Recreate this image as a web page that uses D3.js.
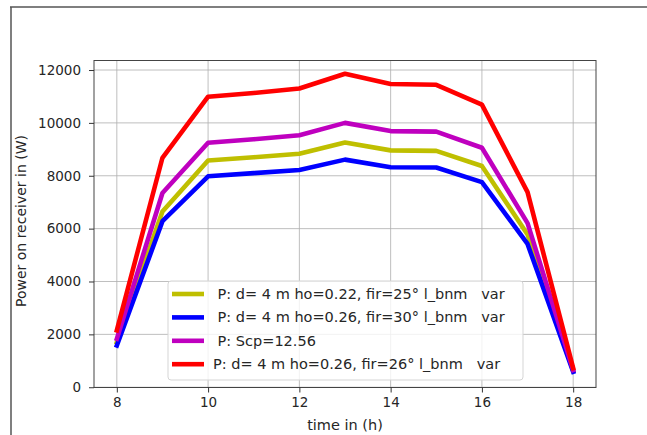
<!DOCTYPE html>
<html>
<head>
<meta charset="utf-8">
<script src="https://cdn.jsdelivr.net/npm/d3@7"></script>
<style>
  html, body { margin: 0; padding: 0; background: #fff; }
  svg { display: block; }
  text { font-family: "DejaVu Sans", sans-serif; fill: #262626; }
</style>
</head>
<body>
<svg id="chart" width="647" height="435"></svg>
<script>
// ---- data ----
const hours = [8, 9, 10, 11, 12, 13, 14, 15, 16, 17, 18];
const seriesNames = [
  " P: d= 4 m ho=0.22, fir=25° l_bnm   var",
  " P: d= 4 m ho=0.26, fir=30° l_bnm   var",
  " P: Scp=12.56",
  "P: d= 4 m ho=0.26, fir=26° l_bnm   var"
];
const seriesColors = ["#bfbf00", "#0000ff", "#bf00bf", "#ff0000"];
const yellowValues  = [1700, 6650, 8580, 8700, 8830, 9260, 8960, 8940, 8370, 5780, 620];
const blueValues    = [1580, 6280, 7980, 8100, 8220, 8610, 8320, 8310, 7760, 5420, 580];
const magentaValues = [1830, 7350, 9250, 9380, 9530, 10000, 9690, 9670, 9060, 6210, 650];
const redValues     = [2150, 8680, 10990, 11130, 11300, 11860, 11470, 11440, 10690, 7380, 720];
const allValues = [yellowValues, blueValues, magentaValues, redValues];
const xTicks = [8, 10, 12, 14, 16, 18];
const yTicks = [0, 2000, 4000, 6000, 8000, 10000, 12000];
const xLabel = "time in (h)";
const yLabel = "Power on receiver in (W)";

// ---- layout ----
const svg = d3.select("#chart");
const L = 94, R = 596, T = 60.5, B = 387.5;

// outer frame (left and top edge)
svg.append("line").attr("x1", 11).attr("x2", 11).attr("y1", 7).attr("y2", 435)
  .attr("stroke", "#555").attr("stroke-width", 1.5);
svg.append("line").attr("x1", 10).attr("x2", 647).attr("y1", 7).attr("y2", 7)
  .attr("stroke", "#555").attr("stroke-width", 1.5);

const x = d3.scaleLinear().domain([7.5, 18.5]).range([L, R]);
const y = d3.scaleLinear().domain([-10, 12360]).range([B, T]);

// grid
const grid = svg.append("g");
grid.selectAll(".gx").data(xTicks).join("line")
  .attr("x1", d => x(d)).attr("x2", d => x(d)).attr("y1", T).attr("y2", B)
  .attr("stroke", "#b0b0b0").attr("stroke-width", 1).attr("opacity", 0.8);
grid.selectAll(".gy").data(yTicks).join("line")
  .attr("y1", d => y(d)).attr("y2", d => y(d)).attr("x1", L).attr("x2", R)
  .attr("stroke", "#b0b0b0").attr("stroke-width", 1).attr("opacity", 0.8);

// lines
const line = d3.line().x((d, i) => x(hours[i])).y(d => y(d));
allValues.forEach((vals, k) => {
  svg.append("path").datum(vals)
    .attr("d", line)
    .attr("fill", "none")
    .attr("stroke", seriesColors[k])
    .attr("stroke-width", 4.6)
    .attr("stroke-linejoin", "round")
    .attr("stroke-linecap", "square");
});

// frame of axes
svg.append("rect").attr("x", L).attr("y", T).attr("width", R - L).attr("height", B - T)
  .attr("fill", "none").attr("stroke", "#444").attr("stroke-width", 1);

// axes
const xAxis = d3.axisBottom(x).tickValues(xTicks).tickSize(5).tickPadding(5).tickFormat(d3.format("d"));
const gx = svg.append("g").attr("transform", `translate(0,${B})`).call(xAxis);
gx.select(".domain").remove();
gx.selectAll("line").attr("stroke", "#333");
gx.selectAll("text").attr("font-size", 13.5).attr("fill", "#262626")
  .style("font-family", "DejaVu Sans");

const yAxis = d3.axisLeft(y).tickValues(yTicks).tickSize(5).tickPadding(8).tickFormat(d3.format("d"));
const gy = svg.append("g").attr("transform", `translate(${L},0)`).call(yAxis);
gy.select(".domain").remove();
gy.selectAll("line").attr("stroke", "#333");
gy.selectAll("text").attr("font-size", 13.5).attr("fill", "#262626")
  .style("font-family", "DejaVu Sans");

// axis labels
svg.append("text").attr("x", (L + R) / 2).attr("y", 430)
  .attr("text-anchor", "middle").attr("font-size", 14.5).text(xLabel);
svg.append("text").attr("transform", `translate(26,${(T + B) / 2 - 3}) rotate(-90)`)
  .attr("text-anchor", "middle").attr("font-size", 14).text(yLabel);

// legend
const lg = svg.append("g");
lg.append("rect").attr("x", 168).attr("y", 281).attr("width", 355).attr("height", 99)
  .attr("rx", 3).attr("fill", "#fff").attr("fill-opacity", 0.8)
  .attr("stroke", "#d5d5d5").attr("stroke-width", 1);
seriesNames.forEach((name, k) => {
  const cy = 294 + k * 23.4;
  lg.append("line").attr("x1", 172).attr("x2", 204).attr("y1", cy).attr("y2", cy)
    .attr("stroke", seriesColors[k]).attr("stroke-width", 4.6);
  lg.append("text").attr("x", 213).attr("y", cy).attr("dy", "0.35em")
    .attr("font-size", 14.5).attr("xml:space", "preserve").style("white-space", "pre").text(name);
});
</script>
</body>
</html>
